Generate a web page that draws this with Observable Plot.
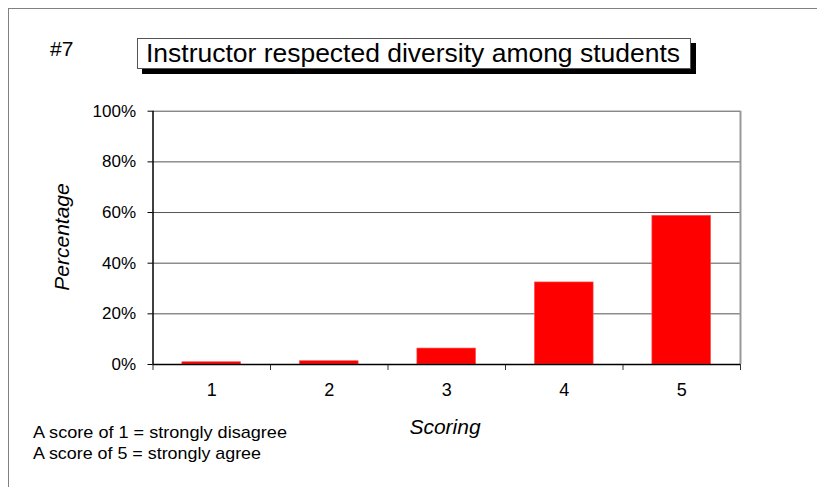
<!DOCTYPE html>
<html>
<head>
<meta charset="utf-8">
<script src="https://cdn.jsdelivr.net/npm/d3@7"></script>
<script src="https://cdn.jsdelivr.net/npm/@observablehq/plot@0.6"></script>
<style>
  html, body { margin: 0; padding: 0; background: #fff; }
  #wrap { position: relative; width: 817px; height: 487px; overflow: hidden; font-family: "Liberation Sans", Arial, sans-serif; }
  #border { position: absolute; left: 8px; top: 8px; width: 900px; height: 600px; border: 1px solid #808080; box-sizing: border-box; }
  #chart { position: absolute; left: 0; top: 0; }
</style>
</head>
<body>
<div id="wrap">
  <div id="border"></div>
  <div id="chart"></div>
</div>
<script>
const scores = [1, 2, 3, 4, 5];
const percentages = [0.9, 1.3, 6.3, 32.4, 58.7];
const yTicks = [0, 20, 40, 60, 80, 100];
const titleText = "Instructor respected diversity among students";
const numberLabel = "#7";
const xLabel = "Scoring";
const yLabel = "Percentage";
const notes = ["A score of 1 = strongly disagree", "A score of 5 = strongly agree"];

const data = scores.map((s, i) => ({score: s, pct: percentages[i]}));
const boundaries = [0.5, ...scores.map(s => s + 0.5)];

const W = 817, H = 487;
const mL = 152.5, mR = 77, mT = 110.7, mB = 123;

const plot = Plot.plot({
  width: W,
  height: H,
  marginLeft: mL,
  marginRight: mR,
  marginTop: mT,
  marginBottom: mB,
  style: {fontFamily: "'Liberation Sans', Arial, sans-serif", fontSize: "17px", background: "transparent", overflow: "visible"},
  x: {type: "linear", domain: [0.5, 5.5]},
  y: {domain: [0, 100]},
  marks: [
    Plot.gridY(yTicks.filter(t => t > 0), {stroke: "#555", strokeOpacity: 1, strokeWidth: 1}),
    Plot.ruleX([5.5], {stroke: "#999", strokeWidth: 2}),
    Plot.rectY(data, {x1: d => d.score - 0.25, x2: d => d.score + 0.25, y: "pct", fill: "#ff0000", stroke: "#ff5555", strokeWidth: 0.6}),
    Plot.axisY({ticks: yTicks, tickFormat: d => d + "%", tickSize: 5, tickPadding: 12, label: null, fontSize: 17, color: "#000"}),
    Plot.axisX({ticks: boundaries, tickFormat: () => "", tickSize: 6, label: null, stroke: "#333"}),
    Plot.axisX({ticks: scores, tickFormat: d => String(d), tickSize: 0, tickPadding: 19, label: null, fontSize: 18, color: "#000"}),
    Plot.ruleY([0], {stroke: "#000", strokeWidth: 1.5}),
    Plot.ruleX([0.5], {stroke: "#000", strokeWidth: 1.5})
  ]
});
document.getElementById("chart").appendChild(plot);

// overlay texts
const svg = d3.select(plot);
const ns = "'Liberation Sans', Arial, sans-serif";
// title box with shadow
svg.append("rect").attr("x", 142).attr("y", 43).attr("width", 554).attr("height", 31).attr("fill", "#000");
svg.append("rect").attr("x", 137.5).attr("y", 38.5).attr("width", 553).attr("height", 30).attr("fill", "#fff").attr("stroke", "#555").attr("stroke-width", 1);
svg.append("text").attr("x", 146).attr("y", 62).attr("text-anchor", "start").attr("font-family", ns).attr("font-size", 25)
  .attr("textLength", 534).attr("lengthAdjust", "spacingAndGlyphs").attr("fill", "#000").text(titleText);
svg.append("text").attr("x", 50).attr("y", 56).attr("text-anchor", "start").attr("font-family", ns).attr("font-size", 21).attr("fill", "#000").text(numberLabel);
svg.append("text").attr("transform", "translate(69,237) rotate(-90)").attr("text-anchor", "middle").attr("font-family", ns).attr("font-style", "italic").attr("font-size", 21).attr("fill", "#000").text(yLabel);
svg.append("text").attr("x", 445).attr("y", 434).attr("text-anchor", "middle").attr("font-family", ns).attr("font-style", "italic").attr("font-size", 21).attr("fill", "#000").text(xLabel);
notes.forEach((t, i) => {
  svg.append("text").attr("x", 33).attr("y", 438 + i * 21).attr("text-anchor", "start").attr("font-family", ns).attr("font-size", 17)
    .attr("textLength", i === 0 ? 254 : 228).attr("lengthAdjust", "spacingAndGlyphs").attr("fill", "#000").text(t);
});
</script>
</body>
</html>
